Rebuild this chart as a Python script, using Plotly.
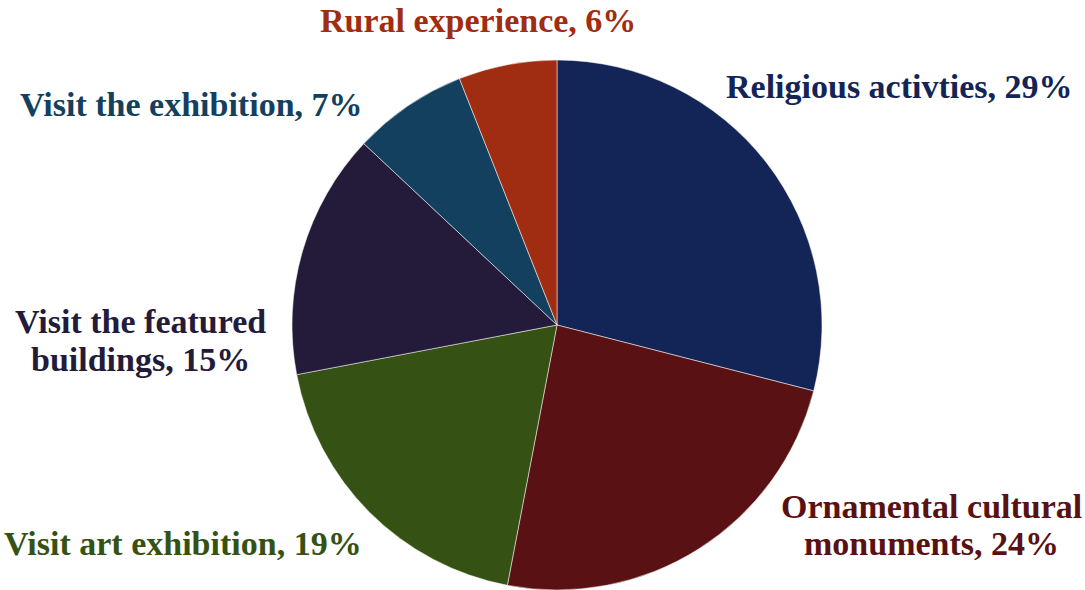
import plotly.graph_objects as go

# Share of tourist activities
labels = [
    "Religious activties",
    "Ornamental cultural\nmonuments",
    "Visit art exhibition",
    "Visit the featured\nbuildings",
    "Visit the exhibition",
    "Rural experience",
]
values = [29, 24, 19, 15, 7, 6]
colors = ["#132457", "#5a1113", "#355214", "#241b3a", "#12405e", "#a02d12"]

# Label anchor points in pixel coordinates (x, y of first line from top)
label_pos = [(899, 86), (931, 506), (183, 543), (141, 322), (191, 104), (478, 20)]
line_gap = 37

W, H = 1085, 590
cx, cy, r = 557, 325, 265

fig = go.Figure(
    go.Pie(
        labels=[l.replace("\n", " ") for l in labels],
        values=values,
        sort=False,
        direction="clockwise",
        rotation=0,
        marker=dict(colors=colors, line=dict(color="rgba(255,255,255,0.5)", width=1)),
        textinfo="none",
        hoverinfo="label+percent",
        showlegend=False,
        domain=dict(x=[(cx - r) / W, (cx + r) / W], y=[(H - cy - r) / H, (H - cy + r) / H]),
    )
)

total = sum(values)
font = dict(family="Liberation Serif, Times New Roman, serif", size=34)
for lab, val, col, (px, py) in zip(labels, values, colors, label_pos):
    lines = f"{lab}, {round(val / total * 100)}%".split("\n")
    for i, line in enumerate(lines):
        fig.add_annotation(
            x=px / W,
            y=1 - (py + i * line_gap) / H,
            xref="paper",
            yref="paper",
            xanchor="center",
            yanchor="middle",
            text=f"<b>{line}</b>",
            showarrow=False,
            font=dict(font, color=col),
        )

fig.update_layout(
    width=W,
    height=H,
    margin=dict(l=0, r=0, t=0, b=0),
    paper_bgcolor="white",
    plot_bgcolor="white",
)

fig.write_html("out.html")
